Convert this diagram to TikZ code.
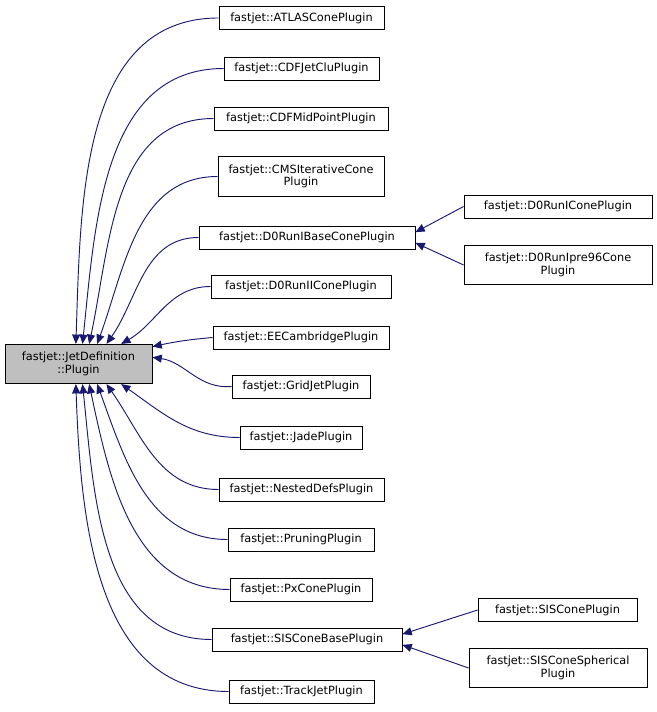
\documentclass[tikz,border=0pt]{standalone}
\usepackage{fontspec}
\setmainfont{DejaVu Sans}
\usetikzlibrary{arrows.meta}
\definecolor{edge}{HTML}{191970}
\begin{document}
\begin{tikzpicture}[x=0.75pt,y=-0.75pt,
  bx/.style={draw, line width=0.6pt, inner sep=1pt, font=\fontsize{8.5}{9.4}\selectfont, align=center, minimum height=17.25pt, minimum width=#1*0.75pt},
  bx2/.style={bx=#1, minimum height=29.5pt},
  ar/.style={draw=edge, line width=0.7pt, -{Triangle[open, fill=edge, length=7pt, width=6pt]}}]
\useasboundingbox (0,0) rectangle (656,712);
\node[bx2=147, fill=black!25] (base) at (78.5,364) {fastjet::JetDefinition\\::Plugin};
\node[bx=165] (atlas) at (301.5,18) {fastjet::ATLASConePlugin};
\node[bx=155] (cdfj) at (301.5,68.5) {fastjet::CDFJetCluPlugin};
\node[bx=174] (cdfm) at (301,118.5) {fastjet::CDFMidPointPlugin};
\node[bx2=166] (cms) at (301,176.5) {fastjet::CMSIterativeCone\\Plugin};
\node[bx=216] (d0b) at (307,237.5) {fastjet::D0RunIBaseConePlugin};
\node[bx=188] (d0i) at (558,206.5) {fastjet::D0RunIConePlugin};
\node[bx2=188] (d0p) at (558,265) {fastjet::D0RunIpre96Cone\\Plugin};
\node[bx=180] (d0ii) at (301,286.5) {fastjet::D0RunIIConePlugin};
\node[bx=176] (ee) at (301,337.5) {fastjet::EECambridgePlugin};
\node[bx=138] (grid) at (301,386.5) {fastjet::GridJetPlugin};
\node[bx=122] (jade) at (301,437.5) {fastjet::JadePlugin};
\node[bx=165] (nest) at (301.5,489.5) {fastjet::NestedDefsPlugin};
\node[bx=146] (prun) at (301,539.5) {fastjet::PruningPlugin};
\node[bx=142] (px) at (301,589.5) {fastjet::PxConePlugin};
\node[bx=190] (sisb) at (307,639.5) {fastjet::SISConeBasePlugin};
\node[bx=159] (sis) at (557.5,610) {fastjet::SISConePlugin};
\node[bx2=178] (siss) at (558,668) {fastjet::SISConeSpherical\\Plugin};
\node[bx=145] (track) at (301.5,691.5) {fastjet::TrackJetPlugin};
\draw[ar] (atlas.west) to[out=180,in=88] ([xshift=-2pt]base.north);
\draw[ar] (cdfj.west) to[out=180,in=84] ([xshift=3pt]base.north);
\draw[ar] (cdfm.west) to[out=180,in=78] ([xshift=8pt]base.north);
\draw[ar] (cms.west) to[out=180,in=70] ([xshift=14pt]base.north);
\draw[ar] (d0b.west) to[out=180,in=55] ([xshift=21pt]base.north);
\draw[ar] (d0ii.west) to[out=180,in=30] ([xshift=32pt]base.north);
\draw[ar] (ee.west) to[out=185,in=12] ([yshift=-2pt]base.north east);
\draw[ar] (grid.west) to[out=185,in=-8] ([yshift=5pt]base.east);
\draw[ar] (jade.west) to[out=180,in=-35] ([xshift=32pt]base.south);
\draw[ar] (nest.west) to[out=180,in=-55] ([xshift=21pt]base.south);
\draw[ar] (prun.west) to[out=180,in=-70] ([xshift=14pt]base.south);
\draw[ar] (px.west) to[out=180,in=-78] ([xshift=8pt]base.south);
\draw[ar] (sisb.west) to[out=180,in=-84] ([xshift=3pt]base.south);
\draw[ar] (track.west) to[out=180,in=-88] ([xshift=-2pt]base.south);
\draw[ar] (d0i.west) -- ([yshift=4pt]d0b.east);
\draw[ar] (d0p.west) -- ([yshift=-4pt]d0b.east);
\draw[ar] (sis.west) -- ([yshift=4pt]sisb.east);
\draw[ar] (siss.west) -- ([yshift=-4pt]sisb.east);
\end{tikzpicture}
\end{document}
